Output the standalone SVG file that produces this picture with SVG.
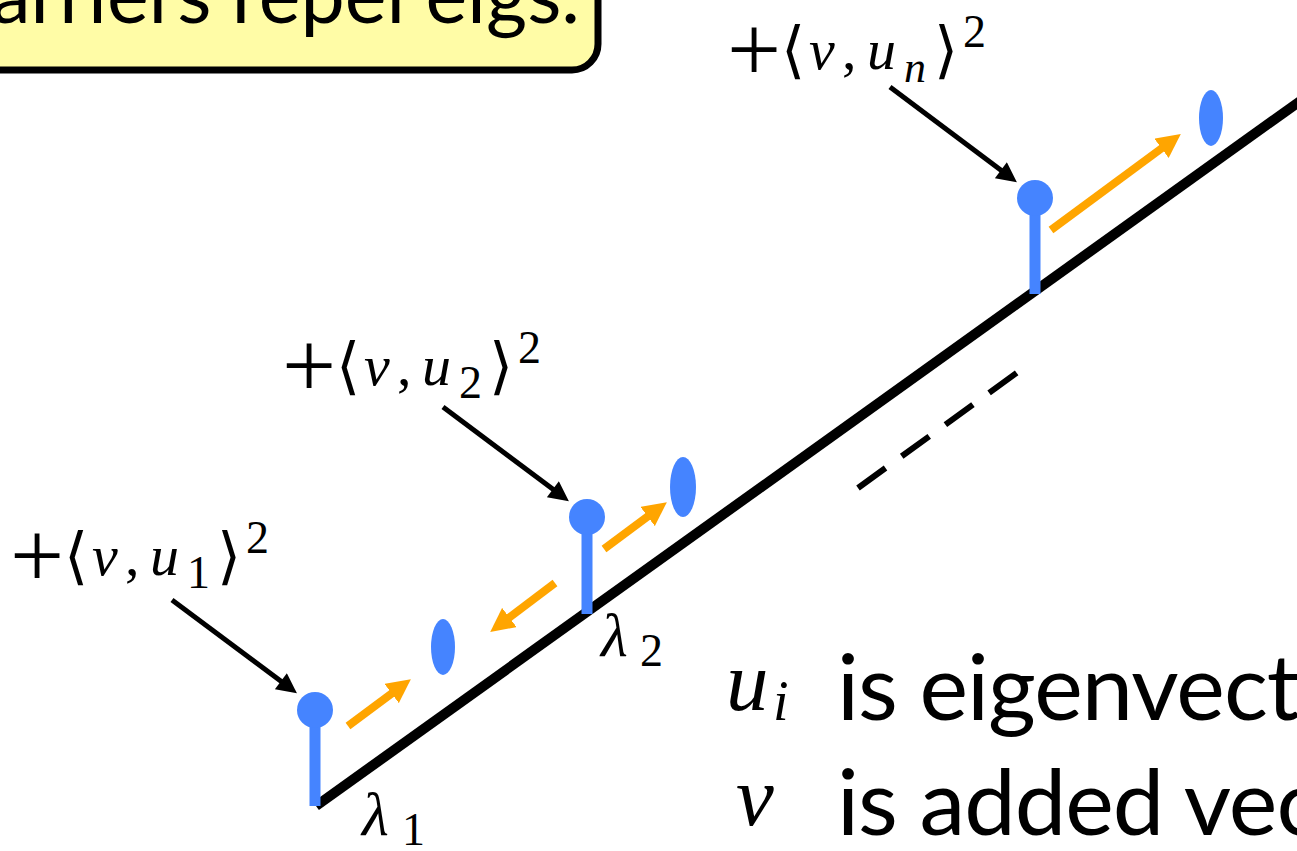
<svg xmlns="http://www.w3.org/2000/svg" width="1297" height="851" viewBox="0 0 1297 851">
<style>
.m{font-family:"Liberation Serif",serif;font-style:italic;font-size:58px;fill:#000}
.r{font-family:"Liberation Serif",serif;font-size:58px;fill:#000}
.p{font-family:"Liberation Serif",serif;font-size:96px;fill:#000}
.s{font-family:"Liberation Serif",serif;font-size:46px;fill:#000}
.b{font-family:"DejaVu Serif","DejaVu Sans",serif;font-size:62px;fill:#000}
.t{font-family:Lato,"Open Sans",sans-serif;font-size:92px;letter-spacing:-1px;fill:#000}
.ar{stroke:#000;stroke-width:5;fill:none;marker-end:url(#ab)}
.or{stroke:#FFA500;stroke-width:8;fill:none;marker-end:url(#ao)}
.bl{fill:#4584FF}
</style>
<defs>
<marker id="ab" viewBox="0 0 10 10" refX="3" refY="5" markerWidth="22" markerHeight="20" markerUnits="userSpaceOnUse" orient="auto"><path d="M0,0 L10,5 L0,10 z" fill="#000"/></marker>
<marker id="ao" viewBox="0 0 10 10" refX="3" refY="5" markerWidth="24" markerHeight="24" markerUnits="userSpaceOnUse" orient="auto"><path d="M0,0 L10,5 L0,10 z" fill="#FFA500"/></marker>
</defs>
<rect width="1297" height="851" fill="#fff"/>
<g id="banner">
<rect x="-30" y="-30" width="628" height="100" rx="26" fill="#FFFCA6" stroke="#000" stroke-width="7"/>
<text class="t" x="580" y="23" text-anchor="end" style="font-size:79px;letter-spacing:0">Barriers repel eigs.</text>
</g>
<g id="axis">
<line x1="316" y1="806" x2="1310" y2="94" stroke="#000" stroke-width="10"/>
<line x1="858" y1="488" x2="1022" y2="369" stroke="#000" stroke-width="6" stroke-dasharray="34 20"/>
</g>
<g id="eig1">
<rect class="bl" x="309.5" y="708" width="11" height="98"/>
<circle class="bl" cx="315" cy="710" r="18"/>
<ellipse class="bl" cx="443" cy="647" rx="12" ry="28"/>
</g>
<g id="eig2">
<rect class="bl" x="581.5" y="515" width="11" height="99"/>
<circle class="bl" cx="587" cy="517" r="18"/>
<ellipse class="bl" cx="683" cy="487" rx="13" ry="30"/>
</g>
<g id="eign">
<rect class="bl" x="1029.5" y="196" width="11" height="98"/>
<circle class="bl" cx="1035" cy="198" r="18"/>
<ellipse class="bl" cx="1211" cy="118" rx="12" ry="28"/>
</g>
<g id="connectors">
<line class="ar" x1="172" y1="600" x2="285.7" y2="684.8"/>
<line class="ar" x1="443" y1="407" x2="557.7" y2="492.8"/>
<line class="ar" x1="890" y1="87" x2="1005.7" y2="173.8"/>
<line class="or" x1="348" y1="726" x2="397.4" y2="689.2"/>
<line class="or" x1="604" y1="549" x2="653.4" y2="512.2"/>
<line class="or" x1="555" y1="583" x2="503.6" y2="621.8"/>
<line class="or" x1="1051" y1="230" x2="1167.3" y2="144.1"/>
</g>
<g id="label1">
<text class="p" x="10" y="587">+</text>
<text class="b" x="64" y="577">⟨</text>
<text class="m" x="92" y="575">v</text>
<text class="r" x="125" y="575">,</text>
<text class="m" x="150" y="575">u</text>
<text class="s" x="187" y="588">1</text>
<text class="b" x="217" y="577">⟩</text>
<text class="s" x="246" y="553">2</text>
</g>
<g id="label2" transform="translate(272,-190)">
<text class="p" x="10" y="587">+</text>
<text class="b" x="64" y="577">⟨</text>
<text class="m" x="92" y="575">v</text>
<text class="r" x="125" y="575">,</text>
<text class="m" x="150" y="575">u</text>
<text class="s" x="187" y="588">2</text>
<text class="b" x="217" y="577">⟩</text>
<text class="s" x="246" y="553">2</text>
</g>
<g id="labeln" transform="translate(717,-506)">
<text class="p" x="10" y="587">+</text>
<text class="b" x="64" y="577">⟨</text>
<text class="m" x="92" y="575">v</text>
<text class="r" x="125" y="575">,</text>
<text class="m" x="150" y="575">u</text>
<text class="m" x="187" y="588" style="font-size:44px">n</text>
<text class="b" x="217" y="577">⟩</text>
<text class="s" x="246" y="553">2</text>
</g>
<g id="lambda1">
<text class="m" x="362" y="835" style="font-size:62px">λ</text>
<text class="s" x="402" y="845">1</text>
</g>
<g id="lambda2">
<text class="m" x="601" y="656" style="font-size:62px">λ</text>
<text class="s" x="640" y="666">2</text>
</g>
<g id="legend">
<text class="m" x="726" y="710" style="font-size:85px">u</text>
<text class="m" x="773" y="720" style="font-size:56px">i</text>
<text class="t" x="837" y="720">is eigenvector</text>
<text class="m" x="736" y="825" style="font-size:85px">v</text>
<text class="t" x="837" y="835">is added vector</text>
</g>
</svg>
